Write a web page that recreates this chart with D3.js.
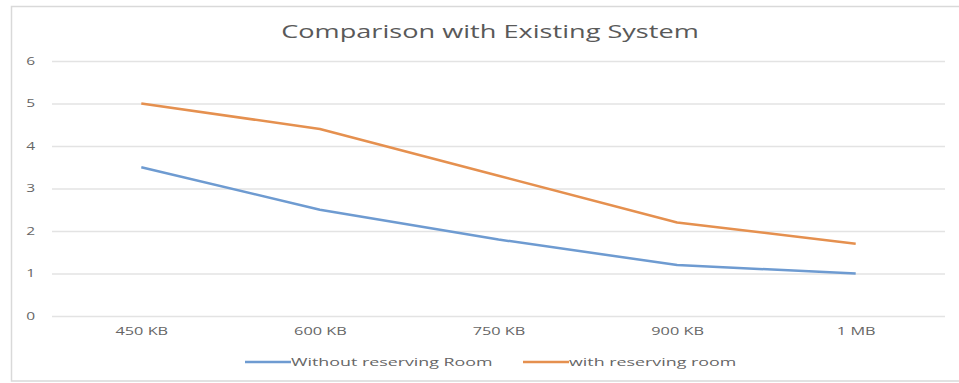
<!DOCTYPE html>
<html><head><meta charset="utf-8">
<script src="https://cdn.jsdelivr.net/npm/d3@7"></script>
<style>html,body{margin:0;padding:0;background:#fff;}svg{display:block;}</style>
</head><body>
<div id="chart"></div>
<script>
const title = "Comparison with Existing System";
const categories = ["450 KB", "600 KB", "750 KB", "900 KB", "1 MB"];
const withoutReserving = [3.5, 2.5, 1.8, 1.2, 1.0];
const withReserving = [5.0, 4.4, 3.3, 2.2, 1.7];
const yTicks = [0, 1, 2, 3, 4, 5, 6];
const seriesNames = ["Without reserving Room", "with reserving room"];
const seriesColors = ["#6e9bd1", "#e5904f"];

const W = 959, H = 383;
const stretch = 1.55;
const svg = d3.select("#chart").append("svg").attr("width", W).attr("height", H);
const font = "'Open Sans', 'Noto Sans', sans-serif";

function widen(sel) {
  sel.each(function () {
    const w = this.getComputedTextLength();
    d3.select(this).attr("textLength", w * stretch).attr("lengthAdjust", "spacingAndGlyphs");
  });
}

svg.append("rect").attr("x", 11.5).attr("y", 6.5).attr("width", 960).attr("height", 374.5)
  .attr("fill", "#fff").attr("stroke", "#d9d9d9").attr("stroke-width", 1.5);

const plotL = 52, plotR = 945, plotT = 61, plotB = 316;
const x = d3.scalePoint().domain(categories).range([plotL, plotR]).padding(0.5);
const y = d3.scaleLinear().domain([0, 6]).range([plotB, plotT]);

svg.append("text").attr("x", 490).attr("y", 38).attr("text-anchor", "middle")
  .attr("font-family", font).attr("font-size", 17.5).attr("fill", "#595959").text(title).call(widen);

const yAxis = d3.axisLeft(y).tickValues(yTicks).tickSize(-(plotR - plotL)).tickFormat(d3.format("d"));
const gy = svg.append("g").attr("transform", `translate(${plotL},0)`).call(yAxis);
gy.select(".domain").remove();
gy.selectAll(".tick line").attr("stroke", "#e3e3e3").attr("stroke-width", 1.5);
gy.selectAll(".tick text").attr("x", -17).attr("font-family", font).attr("font-size", 10)
  .attr("fill", "#666").call(widen);

const xAxis = d3.axisBottom(x).tickSize(0).tickPadding(12);
const gx = svg.append("g").attr("transform", `translate(0,${plotB})`).call(xAxis);
gx.select(".domain").remove();
gx.selectAll(".tick text").attr("font-family", font).attr("font-size", 10.5).attr("fill", "#666").call(widen);

const line = d3.line().x((d, i) => x(categories[i])).y(d => y(d));
[withoutReserving, withReserving].forEach((s, k) => {
  svg.append("path").datum(s).attr("d", line).attr("fill", "none")
    .attr("stroke", seriesColors[k]).attr("stroke-width", 2.5).attr("stroke-linejoin", "round");
});

const legendX = [245, 523];
seriesNames.forEach((n, k) => {
  const g = svg.append("g").attr("transform", `translate(${legendX[k]},362)`);
  g.append("line").attr("x1", 0).attr("x2", 46).attr("y1", 0).attr("y2", 0)
    .attr("stroke", seriesColors[k]).attr("stroke-width", 2.5);
  g.append("text").attr("x", 46).attr("y", 4).attr("font-family", font).attr("font-size", 11.5)
    .attr("fill", "#666").text(n).call(widen);
});
</script>
</body></html>
